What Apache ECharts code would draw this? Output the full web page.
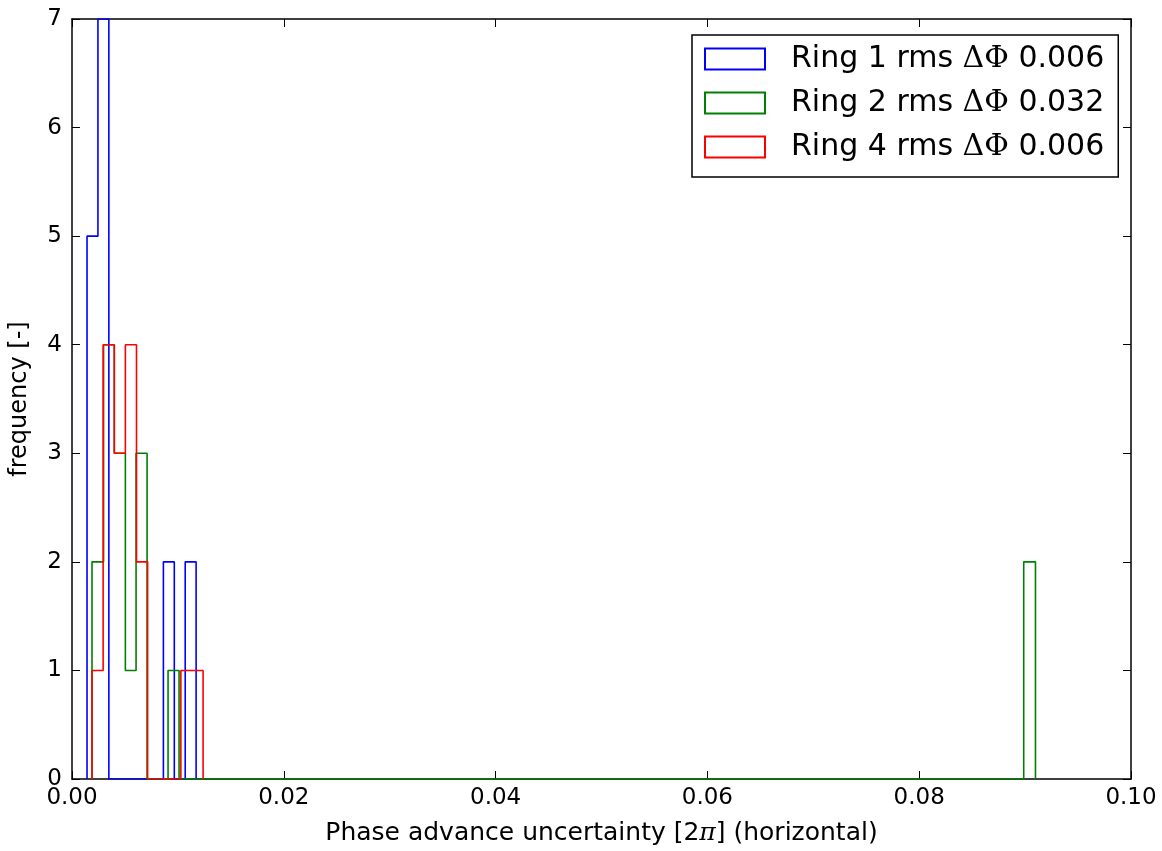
<!DOCTYPE html>
<html>
<head>
<meta charset="utf-8">
<script src="https://cdn.jsdelivr.net/npm/echarts@6/dist/echarts.min.js"></script>
<style>html,body{margin:0;padding:0;background:#fff}#c{width:1162px;height:851px}</style>
</head>
<body>
<div id="c"></div>
<script>
// Histogram bin edges (data units) and counts per ring
var ring1Edges = [0.00142, 0.00245, 0.00348, 0.00451, 0.00554, 0.00657, 0.00760, 0.00863, 0.00966, 0.01069, 0.01172];
var ring1Counts = [5, 7, 0, 0, 0, 0, 0, 2, 0, 2];
var ring2Edges = [0.00189, 0.00298, 0.00400, 0.00504, 0.00605, 0.00709, 0.00807, 0.00907, 0.01011, 0.08987, 0.09098];
var ring2Counts = [2, 4, 3, 1, 3, 0, 0, 1, 0, 2];
var ring4Edges = [0.00189, 0.00294, 0.00399, 0.00504, 0.00609, 0.00714, 0.00818, 0.00923, 0.01028, 0.01133, 0.01238];
var ring4Counts = [1, 4, 3, 4, 2, 0, 0, 0, 1, 1];
var seriesNames = ['Ring 1 rms ΔΦ 0.006', 'Ring 2 rms ΔΦ 0.032', 'Ring 4 rms ΔΦ 0.006'];
var seriesColors = ['#0000ff', '#008000', '#ff0000'];
var xTicks = [0, 0.02, 0.04, 0.06, 0.08, 0.1];
var yTicks = [0, 1, 2, 3, 4, 5, 6, 7];

function stepPoints(edges, counts) {
  var pts = [[edges[0], 0]];
  for (var i = 0; i < counts.length; i++) {
    pts.push([edges[i], counts[i]]);
    pts.push([edges[i + 1], counts[i]]);
  }
  pts.push([edges[edges.length - 1], 0]);
  return pts;
}

var data = [
  stepPoints(ring1Edges, ring1Counts),
  stepPoints(ring2Edges, ring2Counts),
  stepPoints(ring4Edges, ring4Counts)
];

var chart = echarts.init(document.getElementById('c'), null, {renderer: 'canvas'});
var font = 'DejaVu Sans';
var axisCommon = {
  axisLine: {show: true, onZero: false, lineStyle: {color: '#000', width: 1.5}},
  axisTick: {show: true, inside: true, length: 8, lineStyle: {color: '#000', width: 1}},
  splitLine: {show: false}
};

var series = seriesNames.map(function (n, i) {
  return {
    name: n,
    type: 'line',
    data: data[i],
    showSymbol: false,
    symbol: 'none',
    animation: false,
    z: 2 + i,
    lineStyle: {color: seriesColors[i], width: 1.6},
    itemStyle: {color: seriesColors[i]}
  };
});

chart.setOption({
  animation: false,
  backgroundColor: '#fff',
  grid: {left: 71, right: 31, top: 19, bottom: 72, containLabel: false},
  legend: {
    orient: 'vertical',
    left: 692,
    top: 35,
    padding: [9, 14, 15, 12],
    borderColor: '#000',
    borderWidth: 1.5,
    backgroundColor: '#fff',
    itemWidth: 60,
    itemHeight: 21,
    itemGap: 14,
    data: seriesNames.map(function (n, i) {
      return {
        name: n,
        icon: 'rect',
        itemStyle: {color: 'rgba(0,0,0,0)', borderColor: seriesColors[i], borderWidth: 2}
      };
    }),
    formatter: function (name) {
      var parts = name.split('ΔΦ');
      return parts[0] + '{g|ΔΦ}' + parts[1];
    },
    textStyle: {
      fontFamily: font,
      fontSize: 30,
      color: '#000',
      padding: [0, 0, 0, 21],
      rich: {
        g: {fontFamily: 'DejaVu Serif', fontSize: 30, color: '#000'}
      }
    }
  },
  xAxis: [
    Object.assign({}, axisCommon, {
      type: 'value', position: 'bottom', min: 0, max: 0.1, interval: 0.02,
      name: 'Phase advance uncertainty [2{p|π}] (horizontal)',
      nameLocation: 'middle', nameGap: 42,
      nameTextStyle: {fontFamily: font, fontSize: 25, color: '#000',
        rich: {p: {fontFamily: 'DejaVu Serif', fontStyle: 'italic', fontSize: 25, color: '#000'}}},
      axisLabel: {fontFamily: font, fontSize: 23, color: '#000', margin: 8,
        formatter: function (v) { return v.toFixed(2); }}
    }),
    Object.assign({}, axisCommon, {
      type: 'value', position: 'top', min: 0, max: 0.1, interval: 0.02,
      axisLabel: {show: false}
    })
  ],
  yAxis: [
    Object.assign({}, axisCommon, {
      type: 'value', position: 'left', min: 0, max: 7, interval: 1,
      name: 'frequency [-]', nameLocation: 'middle', nameGap: 40,
      nameTextStyle: {fontFamily: font, fontSize: 24, color: '#000'},
      axisLabel: {fontFamily: font, fontSize: 23, color: '#000', margin: 10}
    }),
    Object.assign({}, axisCommon, {
      type: 'value', position: 'right', min: 0, max: 7, interval: 1,
      axisLabel: {show: false}
    })
  ],
  series: series
});
</script>
</body>
</html>
